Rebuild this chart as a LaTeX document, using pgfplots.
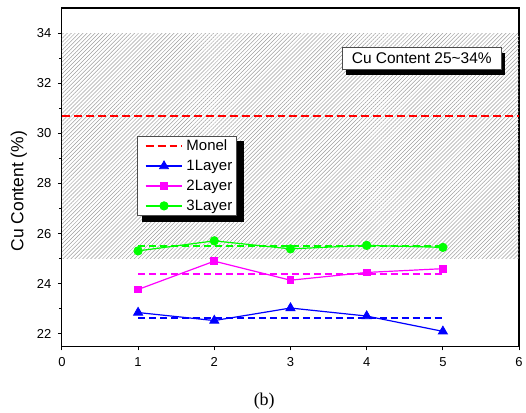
\documentclass[border=0pt]{standalone}
\usepackage{fontspec}
\setmainfont{Liberation Sans}
\newfontfamily\timesfont{Liberation Serif}
\usepackage{pgfplots}
\pgfplotsset{compat=1.18}
\usetikzlibrary{patterns.meta,shadows}
\definecolor{mag}{RGB}{255,0,255}
\definecolor{grn}{RGB}{0,255,0}
\definecolor{blu}{RGB}{0,0,255}
\definecolor{rd}{RGB}{255,0,0}
\begin{document}
\begin{tikzpicture}
\begin{axis}[
  name=ax,
  scale only axis, width=458bp, height=339bp,
  xmin=0, xmax=6, ymin=21.5, ymax=35,
  xtick={0,1,2,3,4,5,6}, ytick={22,24,26,28,30,32,34},
  minor ytick={23,25,27,29,31,33},
  tick pos=left, tick align=outside,
  major tick length=4bp, minor tick length=2.5bp,
  every tick/.style={black, line width=1bp},
  axis line style={line width=1.2bp},
  ticklabel style={font=\fontsize{13bp}{15bp}\selectfont},
  yticklabel style={xshift=-3bp},
  xticklabel style={yshift=-4bp},
  /pgf/number format/assume math mode=true,
  ylabel={Cu Content (\%)},
  every axis y label/.style={at={(axis description cs:-0.094,0.459)}, rotate=90, anchor=center, font=\fontsize{17.5bp}{20bp}\selectfont},
  legend style={at={(0.164,0.622)}, anchor=north west, draw=gray!60!black, fill=white,
    font=\fontsize{15bp}{18bp}\selectfont,
    inner xsep=2.5bp, inner ysep=2.8bp, row sep=6bp,
    nodes={inner sep=1bp}},
  legend cell align=left,
  legend image code/.code={\path (0bp,0bp) (44bp,0bp);\draw[mark repeat=2,mark phase=2,#1,line width=1.8bp] plot coordinates {(5bp,0bp)(23.5bp,0bp)(42bp,0bp)};},
]
% hatched range 25-34
\addplot[draw=none, pattern={Lines[angle=45, distance=2.8bp, line width=0.5bp]}, pattern color=gray!75, forget plot]
  coordinates {(0,25) (6,25) (6,34) (0,34)} -- cycle;
% Monel
\addplot[rd, line width=2bp, dash pattern=on 8bp off 4bp] coordinates {(0,30.69) (6,30.69)};
\addlegendentry{Monel}
% averages
\addplot[blu, line width=2bp, dash pattern=on 7bp off 4bp, forget plot] coordinates {(1,22.63) (5,22.63)};
\addplot[mag, line width=2bp, dash pattern=on 7bp off 4bp, forget plot] coordinates {(1,24.38) (5,24.38)};
\addplot[grn, line width=2bp, dash pattern=on 7bp off 4bp, forget plot] coordinates {(1,25.49) (5,25.49)};
% layers
\addplot[blu, line width=1.2bp, mark=triangle*, mark size=5.2bp, mark options={solid,line width=0.8bp}] coordinates {(1,22.85) (2,22.53) (3,23.03) (4,22.71) (5,22.10)};
\addlegendentry{1Layer}
\addplot[mag, line width=1.2bp, mark=square*, mark size=3.4bp, mark options={solid,line width=0.8bp}] coordinates {(1,23.77) (2,24.90) (3,24.14) (4,24.45) (5,24.60)};
\addlegendentry{2Layer}
\addplot[grn, line width=1.2bp, mark=*, mark size=4.2bp, mark options={solid,line width=0.8bp}] coordinates {(1,25.31) (2,25.71) (3,25.39) (4,25.53) (5,25.45)};
\addlegendentry{3Layer}
% legend shadow
\addplot[fill=black, draw=none, forget plot] coordinates {(1.048,26.47) (2.385,26.47) (2.385,29.71) (1.048,29.71)} -- cycle;
\node[draw=gray!60!black, line width=0.6bp, fill=white, font=\fontsize{15.5bp}{18bp}\selectfont,
  drop shadow={shadow xshift=4bp, shadow yshift=-5bp, fill=black, opacity=1},
  minimum width=159bp, minimum height=22bp, inner sep=1bp]
  at (axis cs:4.723,32.98) {Cu Content 25\textasciitilde34\%};
\end{axis}
\node[font=\timesfont\fontsize{18bp}{20bp}\selectfont] at ([xshift=202.7bp,yshift=-55bp]ax.south west) {(b)};
\path ([xshift=-62bp,yshift=-65bp]ax.south west) rectangle ([xshift=6bp,yshift=8bp]ax.north east);
\end{tikzpicture}
\end{document}
